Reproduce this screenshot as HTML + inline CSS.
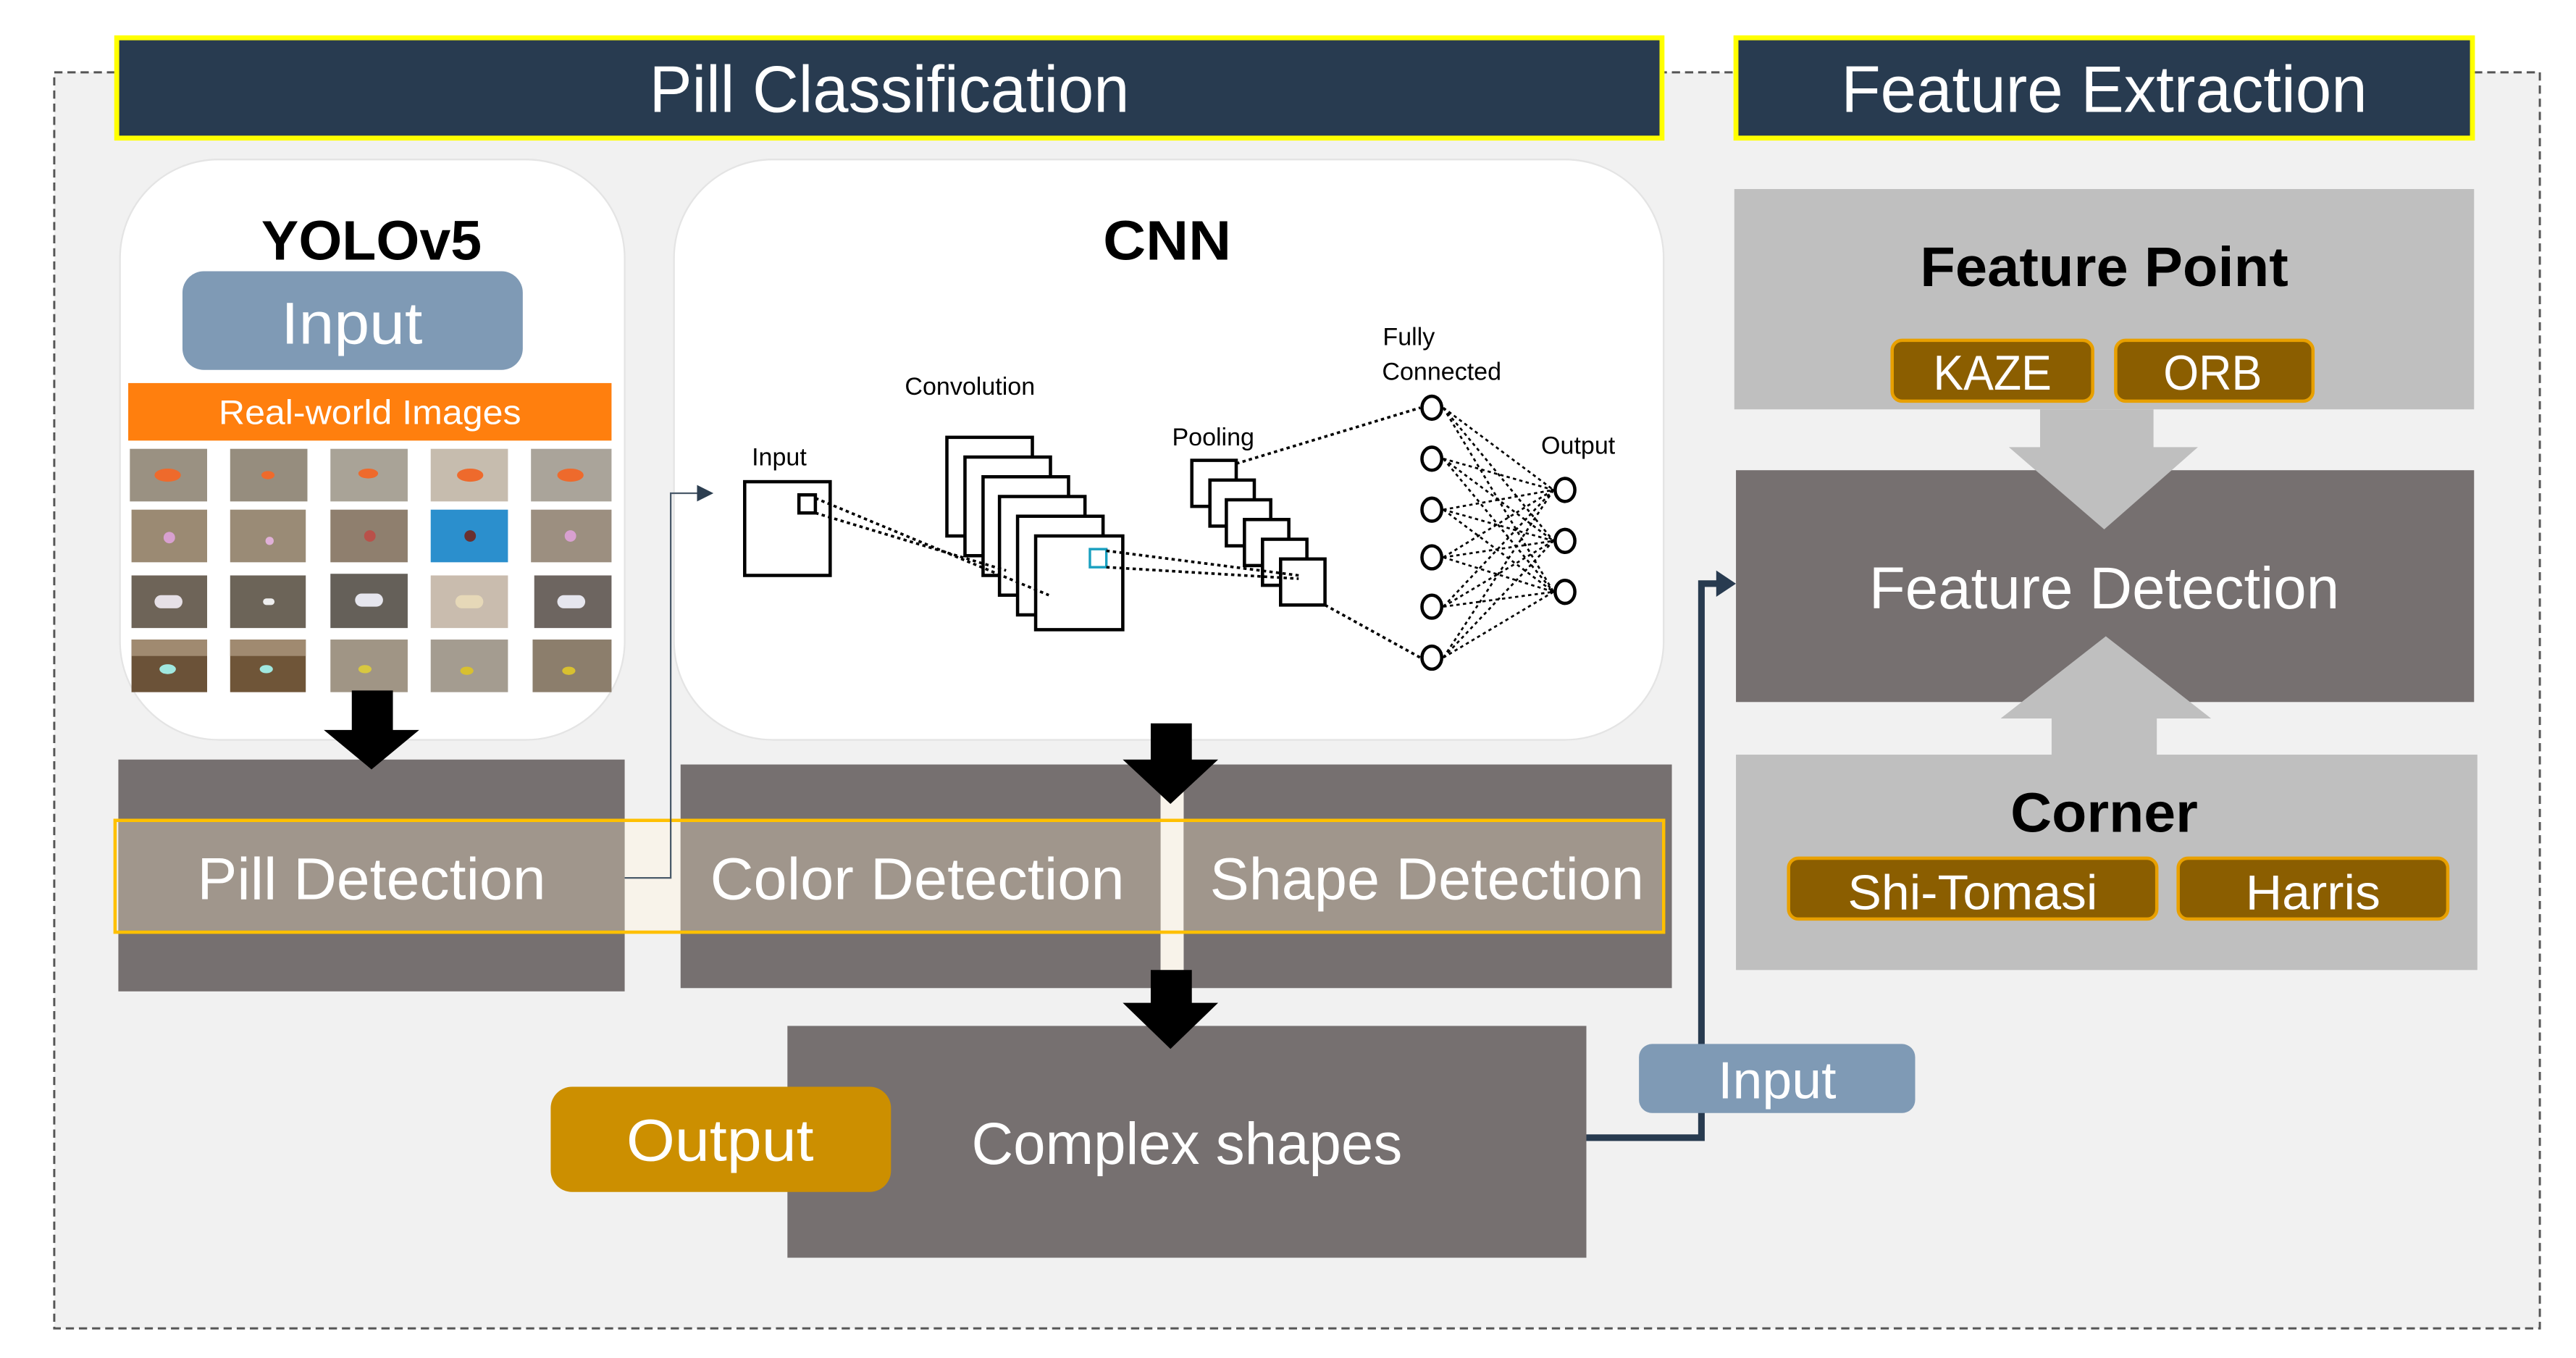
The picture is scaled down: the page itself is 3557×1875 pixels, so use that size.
<!DOCTYPE html>
<html><head><meta charset="utf-8"><style>
html,body{margin:0;padding:0;background:#fff;}
svg{display:block;}
text{font-family:"Liberation Sans Narrow","Liberation Sans",sans-serif;}
</style></head><body>
<svg width="3557" height="1875" viewBox="0 0 1567 826" preserveAspectRatio="none" xmlns="http://www.w3.org/2000/svg">
<rect x="0" y="0" width="1567" height="826" fill="#ffffff"/>
<rect x="33" y="44" width="1512" height="764" fill="#f1f1f1" stroke="#555" stroke-width="1.3" stroke-dasharray="5,3"/>

<rect x="71" y="23" width="940" height="61" fill="#283b50" stroke="#ffff00" stroke-width="3"/>
<text x="541" y="68" font-size="40" fill="#fff" text-anchor="middle" textLength="292" lengthAdjust="spacingAndGlyphs">Pill Classification</text>
<rect x="1056" y="23" width="448" height="61" fill="#283b50" stroke="#ffff00" stroke-width="3"/>
<text x="1280" y="68" font-size="40" fill="#fff" text-anchor="middle" textLength="320" lengthAdjust="spacingAndGlyphs">Feature Extraction</text>

<rect x="73" y="97" width="307" height="353" rx="60" fill="#fff" stroke="#e4e4e4" stroke-width="1"/>
<text x="226" y="158" font-size="34" font-weight="bold" fill="#000" text-anchor="middle" textLength="134" lengthAdjust="spacingAndGlyphs">YOLOv5</text>
<rect x="111" y="165" width="207" height="60" rx="13" fill="#7f9ab5"/>
<text x="214" y="209" font-size="36" fill="#fff" text-anchor="middle" textLength="86" lengthAdjust="spacingAndGlyphs">Input</text>
<rect x="78" y="233" width="294" height="35" fill="#ff7f0e"/>
<text x="225" y="258" font-size="21" fill="#fff" text-anchor="middle" textLength="184" lengthAdjust="spacingAndGlyphs">Real-world Images</text>
<g>
<rect x="79" y="273" width="47" height="32" fill="#9a9182"/><ellipse cx="102" cy="289" rx="8" ry="4" fill="#ee6a2c"/>
<rect x="140" y="273" width="47" height="32" fill="#968d7e"/><ellipse cx="163" cy="289" rx="4" ry="2.5" fill="#ee6a2c"/>
<rect x="201" y="273" width="47" height="32" fill="#a9a397"/><ellipse cx="224" cy="288" rx="6" ry="3" fill="#ee6a2c"/>
<rect x="262" y="273" width="47" height="32" fill="#c6bcae"/><ellipse cx="286" cy="289" rx="8" ry="4" fill="#ee6a2c"/>
<rect x="323" y="273" width="49" height="32" fill="#aaa49a"/><ellipse cx="347" cy="289" rx="8" ry="4" fill="#ee6a2c"/>

<rect x="80" y="310" width="46" height="32" fill="#9b8a73"/><circle cx="103" cy="327" r="3.5" fill="#d8a0d0"/>
<rect x="140" y="310" width="46" height="32" fill="#9a8b76"/><circle cx="164" cy="329" r="2.5" fill="#e0b0d8"/>
<rect x="201" y="310" width="47" height="32" fill="#8f7f6e"/><circle cx="225" cy="326" r="3.5" fill="#b9514a"/>
<rect x="262" y="310" width="47" height="32" fill="#2b8fcd"/><circle cx="286" cy="326" r="3.5" fill="#6a3030"/>
<rect x="323" y="310" width="49" height="32" fill="#9c8f80"/><circle cx="347" cy="326" r="3.5" fill="#d8a0d0"/>

<rect x="80" y="350" width="46" height="32" fill="#6e6458"/><rect x="94" y="362" width="17" height="8" rx="4" fill="#e6e0e6"/>
<rect x="140" y="350" width="46" height="32" fill="#6c6458"/><rect x="160" y="364" width="7" height="4" rx="2" fill="#eee"/>
<rect x="201" y="349" width="47" height="33" fill="#656059"/><rect x="216" y="361" width="17" height="8" rx="4" fill="#e6e6ee"/>
<rect x="262" y="350" width="47" height="32" fill="#c9bcae"/><rect x="277" y="362" width="17" height="8" rx="4" fill="#e6d8b8"/>
<rect x="325" y="350" width="47" height="32" fill="#6d6560"/><rect x="339" y="362" width="17" height="8" rx="4" fill="#e6e6ee"/>

<rect x="80" y="389" width="46" height="32" fill="#6b5238"/><rect x="80" y="389" width="46" height="10" fill="#a08a70"/><ellipse cx="102" cy="407" rx="5" ry="3" fill="#a0e8e0"/>
<rect x="140" y="389" width="46" height="32" fill="#6f5538"/><rect x="140" y="389" width="46" height="10" fill="#a08a70"/><ellipse cx="162" cy="407" rx="4" ry="2.5" fill="#a0e8e0"/>
<rect x="201" y="389" width="47" height="32" fill="#a09585"/><ellipse cx="222" cy="407" rx="4" ry="2.5" fill="#d8c840"/>
<rect x="262" y="389" width="47" height="32" fill="#a49c90"/><ellipse cx="284" cy="408" rx="4" ry="2.5" fill="#d8c030"/>
<rect x="324" y="389" width="48" height="32" fill="#8c7e6c"/><ellipse cx="346" cy="408" rx="4" ry="2.5" fill="#d8c030"/>
</g>

<rect x="410" y="97" width="602" height="353" rx="60" fill="#fff" stroke="#e4e4e4" stroke-width="1"/>
<text x="710" y="158" font-size="34" font-weight="bold" fill="#000" text-anchor="middle" textLength="78" lengthAdjust="spacingAndGlyphs">CNN</text>
<g fill="#000" font-size="15" text-anchor="middle">
<text x="474" y="283">Input</text>
<text x="590" y="240">Convolution</text>
<text x="738" y="271">Pooling</text>
<text x="857" y="210">Fully</text>
<text x="877" y="231">Connected</text>
<text x="960" y="276">Output</text>
</g>
<g fill="#fff" stroke="#000" stroke-width="2">
<rect x="453" y="293" width="52" height="57"/>
<rect x="486" y="301" width="10" height="11"/>
<rect x="576" y="266" width="52" height="60"/>
<rect x="587" y="278" width="52" height="60"/>
<rect x="598" y="290" width="52" height="60"/>
<rect x="608" y="302" width="52" height="60"/>
<rect x="619" y="314" width="52" height="60"/>
<rect x="630" y="326" width="53" height="57"/>
<rect x="725" y="280" width="27" height="28"/>
<rect x="736" y="292" width="27" height="28"/>
<rect x="746" y="304" width="27" height="28"/>
<rect x="757" y="316" width="27" height="28"/>
<rect x="768" y="328" width="27" height="28"/>
<rect x="779" y="340" width="27" height="28"/>
</g>
<rect x="663" y="334" width="10" height="11" fill="none" stroke="#1aa0c0" stroke-width="1.5"/>
<g stroke="#000" stroke-width="1.6" stroke-dasharray="2,2" fill="none">
<line x1="496" y1="303" x2="638" y2="362"/>
<line x1="496" y1="312" x2="612" y2="347"/>
<line x1="673" y1="335" x2="790" y2="350"/>
<line x1="673" y1="345" x2="790" y2="352"/>
<line x1="752" y1="282" x2="864" y2="248"/>
<line x1="806" y1="368" x2="864" y2="400"/>
</g>
<g stroke="#000" stroke-width="1.2" stroke-dasharray="2,2" fill="none">
<path d="M878 248 L945 298 M878 248 L945 329 M878 248 L945 360
M878 279 L945 298 M878 279 L945 329 M878 279 L945 360
M878 310 L945 298 M878 310 L945 329 M878 310 L945 360
M878 339 L945 298 M878 339 L945 329 M878 339 L945 360
M878 369 L945 298 M878 369 L945 329 M878 369 L945 360
M878 400 L945 298 M878 400 L945 329 M878 400 L945 360"/>
</g>
<g fill="#fff" stroke="#000" stroke-width="2">
<ellipse cx="871" cy="248" rx="6" ry="7"/><ellipse cx="871" cy="279" rx="6" ry="7"/>
<ellipse cx="871" cy="310" rx="6" ry="7"/><ellipse cx="871" cy="339" rx="6" ry="7"/>
<ellipse cx="871" cy="369" rx="6" ry="7"/><ellipse cx="871" cy="400" rx="6" ry="7"/>
<ellipse cx="952" cy="298" rx="6" ry="7"/><ellipse cx="952" cy="329" rx="6" ry="7"/>
<ellipse cx="952" cy="360" rx="6" ry="7"/>
</g>

<rect x="72" y="462" width="308" height="141" fill="#767070"/>
<rect x="414" y="465" width="292" height="136" fill="#767070"/>
<rect x="720" y="465" width="297" height="136" fill="#767070"/>
<rect x="380" y="500" width="34" height="66" fill="#f8f3ea"/>
<rect x="706" y="465" width="14" height="125" fill="#f8f3ea"/>
<rect x="72" y="500" width="308" height="66" fill="#a0968c"/>
<rect x="414" y="500" width="292" height="66" fill="#a0968c"/>
<rect x="720" y="500" width="291" height="66" fill="#a0968c"/>
<rect x="70" y="499" width="942" height="68" fill="none" stroke="#ffc000" stroke-width="2"/>
<g font-size="36" fill="#fff" text-anchor="middle">
<text x="226" y="547" textLength="212" lengthAdjust="spacingAndGlyphs">Pill Detection</text>
<text x="558" y="547" textLength="252" lengthAdjust="spacingAndGlyphs">Color Detection</text>
<text x="868" y="547" textLength="264" lengthAdjust="spacingAndGlyphs">Shape Detection</text>
</g>
<path d="M380 534 L408 534 L408 300 L426 300" fill="none" stroke="#4a5a6a" stroke-width="1"/>
<polygon points="424,295 434,300 424,305" fill="#2c3e50"/>

<rect x="479" y="624" width="486" height="141" fill="#767070"/>
<text x="722" y="708" font-size="36" fill="#fff" text-anchor="middle" textLength="262" lengthAdjust="spacingAndGlyphs">Complex shapes</text>
<rect x="335" y="661" width="207" height="64" rx="13" fill="#cc8f00"/>
<text x="438" y="706" font-size="36" fill="#fff" text-anchor="middle" textLength="114" lengthAdjust="spacingAndGlyphs">Output</text>

<polygon points="214,420 239,420 239,444 255,444 226,468 197,444 214,444" fill="#000"/>
<polygon points="700,440 725,440 725,462 741,462 712,489 683,462 700,462" fill="#000"/>
<polygon points="700,590 725,590 725,610 741,610 712,638 683,610 700,610" fill="#000"/>

<path d="M965 692 L1035 692 L1035 355 L1046 355" fill="none" stroke="#283b50" stroke-width="4"/>
<polygon points="1044,347 1056,355 1044,363" fill="#283b50"/>
<rect x="997" y="635" width="168" height="42" rx="8" fill="#7f9ab5"/>
<text x="1081" y="668" font-size="32" fill="#fff" text-anchor="middle" textLength="72" lengthAdjust="spacingAndGlyphs">Input</text>

<rect x="1055" y="115" width="450" height="134" fill="#bfbfbf"/>
<text x="1280" y="174" font-size="34" font-weight="bold" fill="#000" text-anchor="middle" textLength="224" lengthAdjust="spacingAndGlyphs">Feature Point</text>
<rect x="1151" y="207" width="122" height="37" rx="6" fill="#8b5e00" stroke="#e8a000" stroke-width="2"/>
<text x="1212" y="237" font-size="30" fill="#fff" text-anchor="middle" textLength="72" lengthAdjust="spacingAndGlyphs">KAZE</text>
<rect x="1287" y="207" width="120" height="37" rx="6" fill="#8b5e00" stroke="#e8a000" stroke-width="2"/>
<text x="1346" y="237" font-size="30" fill="#fff" text-anchor="middle" textLength="60" lengthAdjust="spacingAndGlyphs">ORB</text>

<rect x="1056" y="286" width="449" height="141" fill="#767070"/>
<polygon points="1241,249 1310,249 1310,272 1337,272 1280,322 1222,272 1241,272" fill="#bfbfbf"/>
<polygon points="1248,460 1312,460 1312,437 1345,437 1281,387 1217,437 1248,437" fill="#bfbfbf"/>
<text x="1280" y="370" font-size="36" fill="#fff" text-anchor="middle" textLength="286" lengthAdjust="spacingAndGlyphs">Feature Detection</text>

<rect x="1056" y="459" width="451" height="131" fill="#bfbfbf"/>
<text x="1280" y="506" font-size="34" font-weight="bold" fill="#000" text-anchor="middle" textLength="114" lengthAdjust="spacingAndGlyphs">Corner</text>
<rect x="1088" y="522" width="224" height="37" rx="6" fill="#8b5e00" stroke="#e8a000" stroke-width="2"/>
<text x="1200" y="553" font-size="30" fill="#fff" text-anchor="middle" textLength="152" lengthAdjust="spacingAndGlyphs">Shi-Tomasi</text>
<rect x="1325" y="522" width="164" height="37" rx="6" fill="#8b5e00" stroke="#e8a000" stroke-width="2"/>
<text x="1407" y="553" font-size="30" fill="#fff" text-anchor="middle" textLength="82" lengthAdjust="spacingAndGlyphs">Harris</text>
</svg>
</body></html>
